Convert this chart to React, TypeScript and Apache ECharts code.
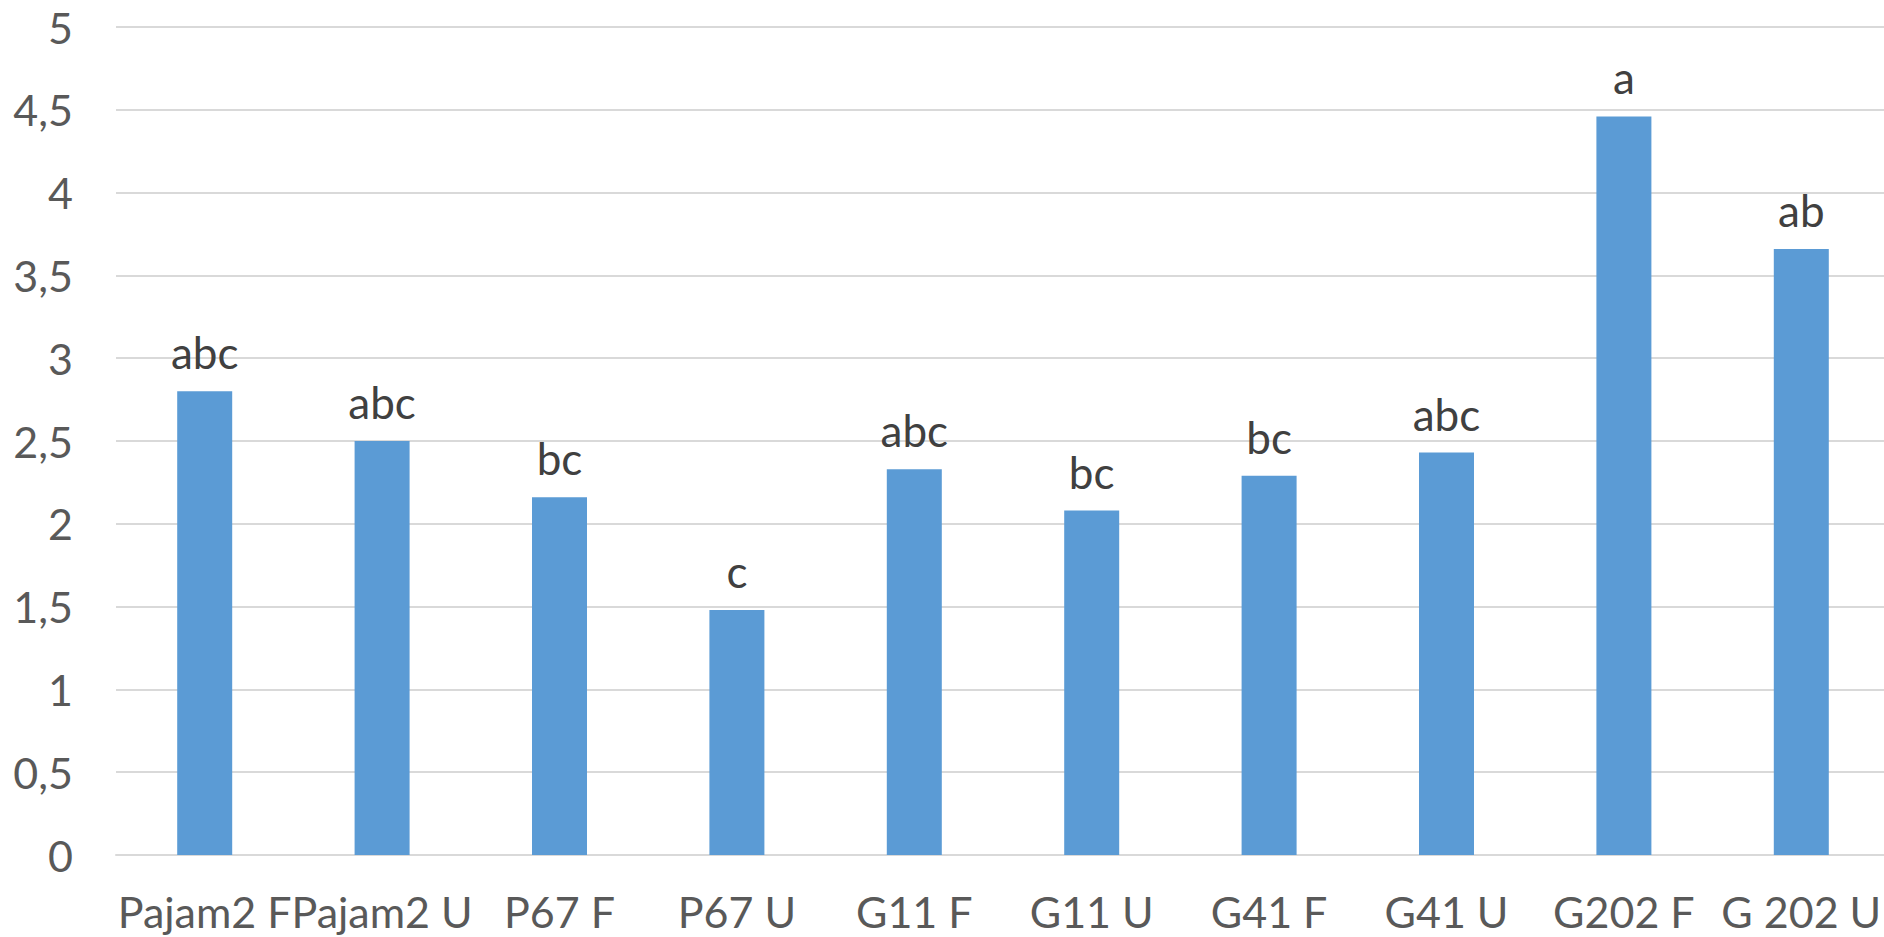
import React, { useEffect, useRef } from "react";
import * as echarts from "echarts";

const categories = ["Pajam2 F", "Pajam2 U", "P67 F", "P67 U", "G11 F", "G11 U", "G41 F", "G41 U", "G202 F", "G 202 U"];
const values = [2.8, 2.5, 2.16, 1.48, 2.33, 2.08, 2.29, 2.43, 4.46, 3.66];
const letters = ["abc", "abc", "bc", "c", "abc", "bc", "bc", "abc", "a", "ab"];
const yTicks = [0, 0.5, 1, 1.5, 2, 2.5, 3, 3.5, 4, 4.5, 5];

const FONT = "Lato, 'Noto Sans', sans-serif";

export default function App() {
  const ref = useRef<HTMLDivElement>(null);
  useEffect(() => {
    if (!ref.current) return;
    const chart = echarts.init(ref.current, null, { renderer: "svg" });
    chart.setOption({
      animation: false,
      backgroundColor: "#ffffff",
      grid: { left: 116, top: 27, right: 0, bottom: 82 },
      xAxis: {
        type: "category",
        data: categories,
        axisLine: { show: true, lineStyle: { color: "#D9D9D9", width: 2 } },
        axisTick: { show: false },
        axisLabel: {
          color: "#595959",
          fontSize: 43,
          fontFamily: FONT,
          margin: 35,
          interval: 0,
        },
      },
      yAxis: {
        type: "value",
        min: yTicks[0],
        max: yTicks[yTicks.length - 1],
        interval: 0.5,
        axisLine: { show: false },
        axisTick: { show: false },
        splitLine: { lineStyle: { color: "#D9D9D9", width: 2 } },
        axisLabel: {
          color: "#595959",
          fontSize: 43,
          fontFamily: FONT,
          margin: 43,
          formatter: (v: number) => String(v).replace(".", ","),
        },
      },
      series: [
        {
          type: "bar",
          data: values.map((v, i) => ({ value: v, label: { formatter: letters[i] } })),
          barWidth: 55,
          itemStyle: { color: "#5B9BD5" },
          label: {
            show: true,
            position: "top",
            distance: 17,
            color: "#404040",
            fontSize: 44,
            fontFamily: FONT,
          },
        },
      ],
    });
    return () => chart.dispose();
  }, []);
  return (
    <div style={{ position: "absolute", left: 0, top: 0, width: 1884, height: 937, overflow: "hidden", background: "#fff" }}>
      <div ref={ref} style={{ position: "absolute", left: 0, top: 0, width: 1890, height: 937 }} />
    </div>
  );
}
